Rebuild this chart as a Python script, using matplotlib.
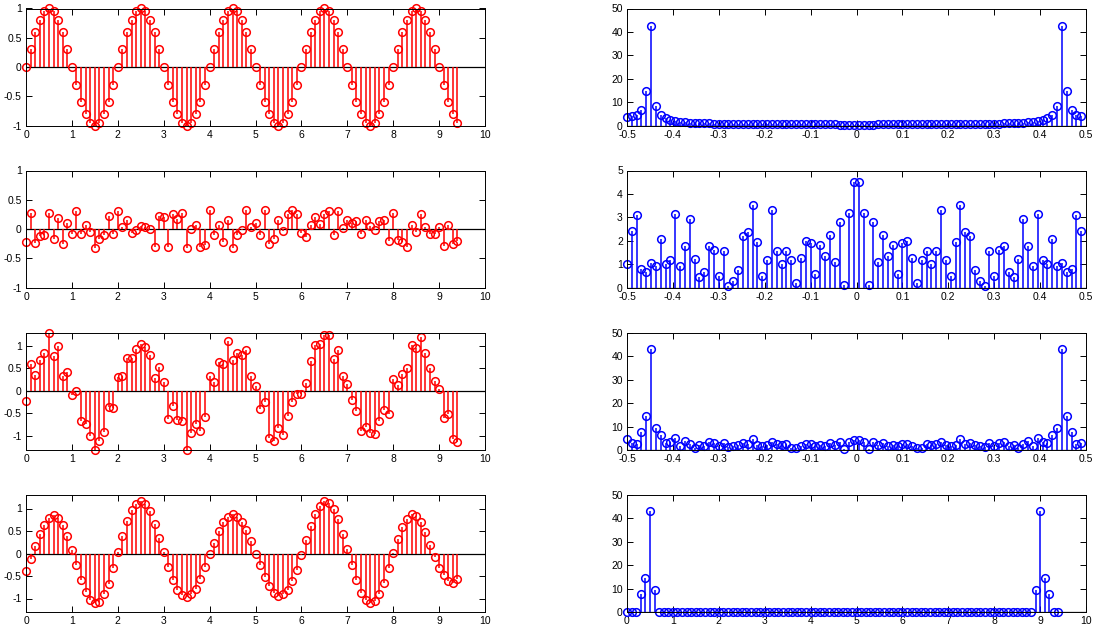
import numpy as np
import matplotlib
matplotlib.use('Agg')
import matplotlib.pyplot as plt

plt.rcParams['font.family'] = ['Liberation Sans', 'DejaVu Sans']
plt.rcParams['axes.unicode_minus'] = False

# ---------------- data ----------------
t = np.round(np.arange(95) * 0.1, 1)          # sample times 0 .. 9.4
freq = np.arange(95) / 95.0 - 0.5             # frequency axis -0.5 .. 0.489

signal = [0, 0.31, 0.59, 0.81, 0.95, 1, 0.95, 0.81, 0.59, 0.31,
          0, -0.31, -0.59, -0.81, -0.95, -1, -0.95, -0.81, -0.59, -0.31,
          0, 0.31, 0.59, 0.81, 0.95, 1, 0.95, 0.81, 0.59, 0.31,
          0, -0.31, -0.59, -0.81, -0.95, -1, -0.95, -0.81, -0.59, -0.31,
          0, 0.31, 0.59, 0.81, 0.95, 1, 0.95, 0.81, 0.59, 0.31,
          0, -0.31, -0.59, -0.81, -0.95, -1, -0.95, -0.81, -0.59, -0.31,
          0, 0.31, 0.59, 0.81, 0.95, 1, 0.95, 0.81, 0.59, 0.31,
          0, -0.31, -0.59, -0.81, -0.95, -1, -0.95, -0.81, -0.59, -0.31,
          0, 0.31, 0.59, 0.81, 0.95, 1, 0.95, 0.81, 0.59, 0.31,
          0, -0.31, -0.59, -0.81, -0.95]

noise = [-0.23, 0.28, -0.24, -0.12, -0.10, 0.28, -0.17, 0.19, -0.26, 0.10,
         -0.09, 0.30, -0.08, 0.06, -0.05, -0.33, -0.17, -0.10, 0.23, -0.08,
         0.30, 0.03, 0.15, -0.07, -0.02, 0.05, 0.03, 0.00, -0.31, 0.22,
         0.20, -0.31, 0.26, 0.17, 0.28, -0.32, 0.00, 0.07, -0.31, -0.27,
         0.32, -0.11, 0.06, -0.22, 0.16, -0.32, -0.10, -0.01, 0.33, 0.03,
         0.10, -0.10, 0.33, -0.25, -0.17, 0.16, -0.04, 0.25, 0.33, 0.25,
         -0.06, -0.13, 0.07, 0.21, 0.09, 0.25, 0.30, -0.11, 0.31, 0.02,
         0.16, 0.10, 0.13, -0.08, 0.15, 0.05, -0.02, 0.14, 0.16, -0.20,
         0.27, -0.18, -0.22, -0.31, 0.07, -0.05, 0.26, 0.04, -0.08, -0.09,
         0.03, -0.29, 0.07, -0.26, -0.20]

noisy = [-0.23, 0.59, 0.35, 0.69, 0.85, 1.28, 0.78, 1.00, 0.33, 0.41,
         -0.09, -0.01, -0.67, -0.75, -1.00, -1.33, -1.12, -0.91, -0.36, -0.39,
         0.30, 0.34, 0.74, 0.74, 0.93, 1.05, 0.98, 0.81, 0.28, 0.53,
         0.20, -0.62, -0.33, -0.64, -0.67, -1.32, -0.95, -0.74, -0.90, -0.58,
         0.32, 0.20, 0.65, 0.59, 1.11, 0.68, 0.85, 0.80, 0.92, 0.34,
         0.10, -0.41, -0.26, -1.06, -1.12, -0.84, -0.99, -0.56, -0.26, -0.06,
         -0.06, 0.18, 0.66, 1.02, 1.04, 1.25, 1.25, 0.70, 0.90, 0.33,
         0.16, -0.21, -0.46, -0.89, -0.80, -0.95, -0.97, -0.67, -0.43, -0.51,
         0.27, 0.13, 0.37, 0.50, 1.02, 0.95, 1.21, 0.85, 0.51, 0.22,
         0.03, -0.60, -0.52, -1.07, -1.15]

filtered = [-0.39, -0.13, 0.16, 0.43, 0.63, 0.78, 0.85, 0.80, 0.63, 0.39,
            0.07, -0.26, -0.59, -0.85, -1.04, -1.11, -1.07, -0.89, -0.67, -0.33,
            0.04, 0.39, 0.72, 0.96, 1.11, 1.16, 1.10, 0.94, 0.65, 0.35,
            0.04, -0.30, -0.58, -0.80, -0.93, -0.96, -0.89, -0.78, -0.56, -0.30,
            -0.02, 0.24, 0.50, 0.70, 0.81, 0.87, 0.81, 0.69, 0.52, 0.27,
            0.00, -0.26, -0.52, -0.73, -0.87, -0.95, -0.91, -0.80, -0.61, -0.36,
            -0.04, 0.30, 0.61, 0.87, 1.05, 1.16, 1.13, 0.98, 0.76, 0.44,
            0.11, -0.26, -0.59, -0.87, -1.04, -1.11, -1.06, -0.89, -0.65, -0.33,
            0.01, 0.33, 0.59, 0.76, 0.87, 0.83, 0.70, 0.48, 0.20, -0.07,
            -0.32, -0.48, -0.61, -0.65, -0.56]

spec_signal = [3.7, 3.9, 4.6, 6.7, 14.7, 42.5, 8.3, 4.6, 3.1, 2.4,
               1.95, 1.65, 1.43, 1.27, 1.15, 1.04, 0.96, 0.89, 0.84, 0.79,
               0.74, 0.71, 0.68, 0.65, 0.62, 0.60, 0.58, 0.56, 0.54, 0.53,
               0.51, 0.50, 0.49, 0.48, 0.47, 0.46, 0.46, 0.45, 0.44, 0.44,
               0.44, 0.43, 0.43, 0.43, 0.42, 0.42, 0.42, 0.42,
               0.42, 0.42, 0.42, 0.42, 0.43, 0.43, 0.43, 0.44, 0.44, 0.44,
               0.45, 0.46, 0.46, 0.47, 0.48, 0.49, 0.50, 0.51, 0.53, 0.54,
               0.56, 0.58, 0.60, 0.62, 0.65, 0.68, 0.71, 0.74, 0.79, 0.84,
               0.89, 0.96, 1.04, 1.15, 1.27, 1.43, 1.65, 1.95, 2.4, 3.1,
               4.6, 8.3, 42.5, 14.7, 6.7, 4.6, 3.9]

spec_noise = [1.0, 2.4, 3.1, 0.8, 0.67, 1.03, 0.91, 2.07, 1.0, 1.17,
              3.14, 0.91, 1.77, 2.93, 1.21, 0.43, 0.67, 1.77, 1.6, 0.49,
              1.56, 0.07, 0.26, 0.74, 2.2, 2.39, 3.54, 1.94, 0.49, 1.17,
              3.31, 1.54, 1.0, 1.54, 1.17, 0.21, 1.24, 1.97, 1.91, 0.57,
              1.81, 1.34, 2.26, 1.1, 2.81, 0.1, 3.19, 4.5,
              4.5, 3.19, 0.1, 2.81, 1.1, 2.26, 1.34, 1.81, 0.57, 1.91,
              1.97, 1.24, 0.21, 1.17, 1.54, 1.0, 1.54, 3.31, 1.17, 0.49,
              1.94, 3.54, 2.39, 2.2, 0.74, 0.26, 0.07, 1.56, 0.49, 1.6,
              1.77, 0.67, 0.43, 1.21, 2.93, 1.77, 0.91, 3.14, 1.17, 1.0,
              2.07, 0.91, 1.03, 0.67, 0.8, 3.1, 2.4]

spec_noisy = [4.7, 3.1, 2.4, 7.7, 14.6, 43.1, 9.3, 6.4, 2.9, 3.3,
              5.3, 1.9, 3.9, 2.6, 1.0, 2.1, 1.7, 3.3, 2.9, 1.9,
              2.9, 1.1, 1.9, 2.1, 3.1, 2.6, 4.6, 2.1, 1.9, 2.1,
              3.6, 2.6, 2.1, 2.6, 1.0, 0.7, 1.9, 2.4, 2.4, 1.9,
              2.1, 1.9, 2.9, 2.1, 3.3, 0.3, 3.3, 4.3,
              4.3, 3.3, 0.3, 3.3, 2.1, 2.9, 1.9, 2.1, 1.9, 2.4,
              2.4, 1.9, 0.7, 1.0, 2.6, 2.1, 2.6, 3.6, 2.1, 1.9,
              2.1, 4.6, 2.6, 3.1, 2.1, 1.9, 1.1, 2.9, 1.9, 2.9,
              3.3, 1.7, 2.1, 1.0, 2.6, 3.9, 1.9, 5.3, 3.3, 2.9,
              6.4, 9.3, 43.1, 14.6, 7.7, 2.4, 3.1]

spec_filtered = [0, 0, 0, 7.7, 14.6, 43.1, 9.3, 0, 0, 0,
                 0, 0, 0, 0, 0, 0, 0, 0, 0, 0,
                 0, 0, 0, 0, 0, 0, 0, 0, 0, 0,
                 0, 0, 0, 0, 0, 0, 0, 0, 0, 0,
                 0, 0, 0, 0, 0, 0, 0, 0, 0, 0,
                 0, 0, 0, 0, 0, 0, 0, 0, 0, 0,
                 0, 0, 0, 0, 0, 0, 0, 0, 0, 0,
                 0, 0, 0, 0, 0, 0, 0, 0, 0, 0,
                 0, 0, 0, 0, 0, 0, 0, 0, 0, 9.3,
                 43.1, 14.6, 7.7, 0, 0]

time_ticks = [0, 1, 2, 3, 4, 5, 6, 7, 8, 9, 10]
time_labels = ['0', '1', '2', '3', '4', '5', '6', '7', '8', '9', '10']
freq_ticks = [-0.5, -0.4, -0.3, -0.2, -0.1, 0, 0.1, 0.2, 0.3, 0.4, 0.5]
freq_labels = ['-0.5', '-0.4', '-0.3', '-0.2', '-0.1', '0', '0.1', '0.2', '0.3', '0.4', '0.5']
amp_ticks = [-1, -0.5, 0, 0.5, 1]
amp_labels = ['-1', '-0.5', '0', '0.5', '1']
mag50_ticks = [0, 10, 20, 30, 40, 50]
mag50_labels = ['0', '10', '20', '30', '40', '50']
mag5_ticks = [0, 1, 2, 3, 4, 5]
mag5_labels = ['0', '1', '2', '3', '4', '5']

# ---------------- figure ----------------
W, H = 1096, 632
fig = plt.figure(figsize=(W / 100, H / 100), dpi=100)
fig.patch.set_facecolor('white')


def px_axes(left, top, width, height):
    return fig.add_axes([left / W, 1 - (top + height) / H, width / W, height / H])


def draw_stem(ax, x, y, color):
    ml, sl, bl = ax.stem(x, y)
    sl.set_color(color)
    sl.set_linewidth(1.1)
    ml.set_color(color)
    ml.set_markerfacecolor('none')
    ml.set_markeredgecolor(color)
    ml.set_markersize(5.5)
    ml.set_markeredgewidth(1.1)
    ml.set_clip_on(False)
    bl.set_visible(False)
    ax.axhline(0, color='black', linewidth=0.9, zorder=1)


def style(ax, xlim, xt, xl, ylim, yt, yl):
    ax.set_xlim(*xlim)
    ax.set_ylim(*ylim)
    ax.set_xticks(xt)
    ax.set_xticklabels(xl)
    ax.set_yticks(yt)
    ax.set_yticklabels(yl)
    ax.tick_params(direction='in', top=True, right=True, length=4,
                   width=0.7, labelsize=7.5, pad=3)
    for s in ax.spines.values():
        s.set_linewidth(0.7)


rows_top = [8.5, 170.5, 333, 495]
row_h = 117
left_x, right_x, ax_w = 26, 627, 459

left_data = [signal, noise, noisy, filtered]
left_ylims = [(-1, 1), (-1, 1), (-1.32, 1.29), (-1.3, 1.3)]
right_data = [spec_signal, spec_noise, spec_noisy, spec_filtered]
right_ylims = [(0, 50), (0, 5), (0, 50), (0, 50)]

for i in range(4):
    axl = px_axes(left_x, rows_top[i], ax_w, row_h)
    draw_stem(axl, t, left_data[i], 'red')
    style(axl, (0, 10), time_ticks, time_labels, left_ylims[i], amp_ticks, amp_labels)

    axr = px_axes(right_x, rows_top[i], ax_w, row_h)
    if i < 3:
        draw_stem(axr, freq, right_data[i], 'blue')
        style(axr, (-0.5, 0.5), freq_ticks, freq_labels, right_ylims[i],
              mag5_ticks if i == 1 else mag50_ticks,
              mag5_labels if i == 1 else mag50_labels)
    else:
        draw_stem(axr, t, right_data[i], 'blue')
        style(axr, (0, 10), time_ticks, time_labels, right_ylims[i],
              mag50_ticks, mag50_labels)

fig.savefig('out.png', dpi=100, facecolor='white')
